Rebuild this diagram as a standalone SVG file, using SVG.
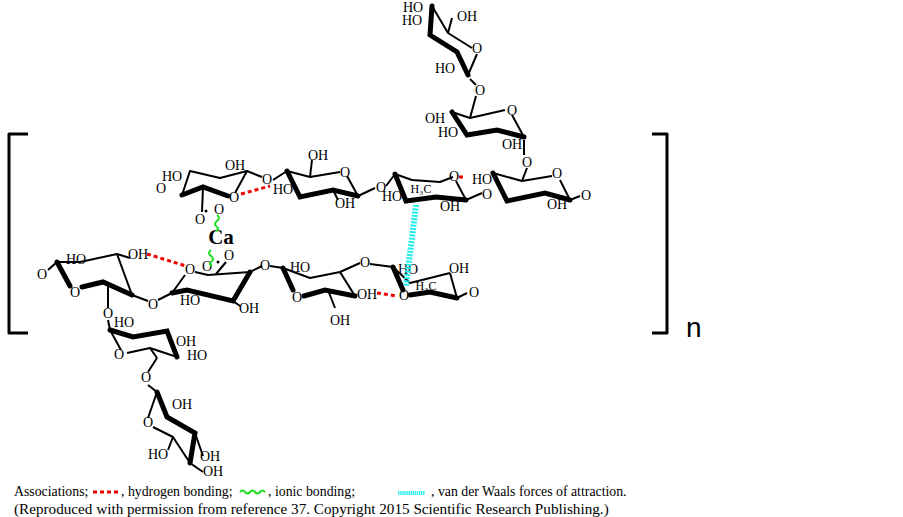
<svg xmlns="http://www.w3.org/2000/svg" width="903" height="517" viewBox="0 0 903 517">
<style>
.b{fill:none;stroke:#000;stroke-width:2;stroke-linejoin:round}
.t{fill:none;stroke:#000;stroke-width:5;stroke-linecap:round}
.l{font-family:"Liberation Serif",serif;font-size:14px;fill:#000;text-anchor:middle}
.hb{stroke:#e00;stroke-width:3;stroke-dasharray:4,3;fill:none}
.ib{stroke:#2d2;stroke-width:2;fill:none}
.leg{font-family:"Liberation Serif",serif;font-size:13.8px;fill:#000}
</style>
<rect width="903" height="517" fill="#fff"/>
<g id="brackets" class="b" style="stroke-width:3">
<polyline points="28,134 9,134 9,333 28,333"/>
<polyline points="652,134 667,134 667,333 652,333"/>
</g>
<text x="686" y="337" style="font-family:'Liberation Sans',sans-serif;font-size:28px">n</text>

<g id="ringA">
<polyline class="b" points="182,195 190,171 220,178 247,171 235,193"/>
<polyline class="t" points="182,195 203,187 228,196"/>
<line class="b" x1="203" y1="187" x2="202" y2="212"/>
<line class="b" x1="247" y1="171" x2="262" y2="177"/>
<text class="l" x="172" y="181">HO</text><text class="l" x="235" y="170">OH</text>
<text class="l" x="161" y="193">O</text><text class="l" x="234" y="202">O</text>
<text class="l" x="267" y="184">O</text>
<text class="l" x="200" y="224">O</text><text class="l" x="219" y="214">O</text>
<circle cx="206" cy="211" r="1.5"/>
</g>
<g id="ringB">
<polyline class="b" points="273,180 287,171 310,177 340,172"/>
<polyline class="t" points="287,171 300,197 333,190 358,196"/>
<line class="b" x1="358" y1="196" x2="347" y2="176"/>
<line class="b" x1="310" y1="177" x2="312" y2="160"/>
<line class="b" x1="333" y1="190" x2="338" y2="200"/>
<line class="b" x1="358" y1="196" x2="375" y2="188"/>
<text class="l" x="283" y="194">HO</text><text class="l" x="318" y="160">OH</text>
<text class="l" x="345" y="208">OH</text><text class="l" x="345" y="177">O</text>
<text class="l" x="381" y="192">O</text>
</g>
<g id="ringC">
<polyline class="b" points="386,186 395,174 412,180 440,182 453,177"/>
<polyline class="t" points="395,174 406,201 436,197 466,200"/>
<line class="b" x1="466" y1="200" x2="456" y2="181"/>
<line class="b" x1="466" y1="200" x2="482" y2="193"/>
<text class="l" x="421" y="193" style="font-size:12px">H₃C</text>
<text class="l" x="392" y="201">HO</text><text class="l" x="450" y="211">OH</text>
<text class="l" x="454" y="181">O</text><text class="l" x="487" y="199">O</text>
</g>
<g id="ringD">
<polyline class="b" points="493,173 522,181 552,176"/>
<polyline class="t" points="493,173 507,201 545,193 570,200"/>
<line class="b" x1="570" y1="200" x2="560" y2="180"/>
<line class="b" x1="570" y1="200" x2="580" y2="196"/>
<line class="b" x1="522" y1="181" x2="527" y2="168"/>
<text class="l" x="482" y="184">HO</text><text class="l" x="557" y="209">OH</text>
<text class="l" x="557" y="178">O</text><text class="l" x="586" y="200">O</text>
<text class="l" x="527" y="167">O</text>
</g>
<g id="ringE">
<line class="b" x1="524" y1="155" x2="524" y2="140"/>
<polyline class="b" points="452,112 470,118 505,110"/>
<polyline class="t" points="452,112 467,135 497,130 524,137"/>
<line class="b" x1="524" y1="137" x2="512" y2="115"/>
<line class="b" x1="470" y1="118" x2="476" y2="96"/>
<text class="l" x="435" y="123">OH</text><text class="l" x="448" y="137">HO</text>
<text class="l" x="512" y="149">OH</text><text class="l" x="512" y="115">O</text>
<text class="l" x="480" y="95">O</text>
</g>
<g id="ringF">
<line class="b" x1="470" y1="79" x2="476" y2="85"/>
<polyline class="b" points="472,48 448,33 432,6"/>
<polyline class="t" points="432,6 430,35 457,52 468,75"/>
<line class="b" x1="468" y1="75" x2="477" y2="54"/>
<line class="b" x1="448" y1="33" x2="452" y2="18"/>
<text class="l" x="413" y="12">HO</text><text class="l" x="412" y="25">HO</text>
<text class="l" x="467" y="21">OH</text><text class="l" x="445" y="73">HO</text>
<text class="l" x="477" y="53">O</text>
</g>

<g id="ringG">
<polyline class="b" points="48,270 57,262 80,262 117,254 130,258"/>
<polyline class="t" points="57,262 70,286"/>
<polyline class="t" points="82,287 103,282 132,295"/>
<polyline class="b" points="117,254 132,295 148,301"/>
<line class="b" x1="108" y1="283" x2="108" y2="308"/>
<text class="l" x="76" y="264">HO</text><text class="l" x="138" y="259">OH</text>
<text class="l" x="42" y="279">O</text><text class="l" x="75" y="297">O</text>
<text class="l" x="153" y="309">O</text><text class="l" x="108" y="318">O</text>
</g>
<g id="ringH">
<polyline class="b" points="158,300 172,293 185,275"/>
<polyline class="b" points="195,272 208,275 250,272 262,266"/>
<polyline class="t" points="172,293 187,290 233,301 250,272"/>
<line class="b" x1="233" y1="301" x2="240" y2="306"/>
<line class="b" x1="216" y1="274" x2="226" y2="262"/>
<text class="l" x="190" y="305">HO</text><text class="l" x="249" y="313">OH</text>
<text class="l" x="190" y="274">O</text><text class="l" x="207" y="271">O</text>
<text class="l" x="229" y="260">O</text><text class="l" x="265" y="270">O</text>
<circle cx="218" cy="262" r="1.5"/>
</g>
<text x="221" y="244" style="font-family:'Liberation Serif',serif;font-size:21px;font-weight:bold;text-anchor:middle">Ca</text>
<g id="ringI">
<polyline class="b" points="270,266 283,268 310,278 340,272 360,263"/>
<polyline class="t" points="283,268 293,290"/>
<polyline class="t" points="304,296 325,290 355,296"/>
<polyline class="b" points="340,272 355,296"/>
<line class="b" x1="328" y1="290" x2="335" y2="308"/>
<text class="l" x="300" y="272">HO</text><text class="l" x="367" y="299">OH</text>
<text class="l" x="340" y="325">OH</text><text class="l" x="297" y="302">O</text>
<text class="l" x="365" y="267">O</text>
</g>
<g id="ringJ">
<polyline class="b" points="370,264 393,267 410,283 450,273"/>
<polyline class="t" points="393,267 403,290"/>
<polyline class="t" points="410,295 430,292 457,298"/>
<polyline class="b" points="450,273 457,298 467,293"/>
<text class="l" x="408" y="274">HO</text><text class="l" x="459" y="273">OH</text>
<text class="l" x="426" y="290" style="font-size:12px">H₃C</text>
<text class="l" x="404" y="300">O</text><text class="l" x="474" y="297">O</text>
</g>
<g id="ringK">
<polyline class="b" points="108,320 110,330 121,350"/>
<polyline class="t" points="110,330 133,337 167,331 177,357"/>
<polyline class="b" points="177,357 150,348 127,353"/>
<line class="b" x1="150" y1="348" x2="157" y2="358"/>
<line class="b" x1="157" y1="358" x2="148" y2="372"/>
<text class="l" x="124" y="327">HO</text><text class="l" x="186" y="346">OH</text>
<text class="l" x="197" y="360">HO</text><text class="l" x="119" y="359">O</text>
<text class="l" x="146" y="382">O</text>
</g>
<g id="ringL">
<polyline class="b" points="148,385 157,392 148,418"/>
<polyline class="t" points="157,392 167,417 195,433 190,463"/>
<polyline class="b" points="190,463 173,437 153,427"/>
<line class="b" x1="173" y1="437" x2="168" y2="450"/>
<line class="b" x1="190" y1="463" x2="203" y2="472"/>
<line class="b" x1="195" y1="433" x2="203" y2="456"/>
<text class="l" x="182" y="409">OH</text><text class="l" x="158" y="459">HO</text>
<text class="l" x="210" y="461">OH</text><text class="l" x="213" y="476">OH</text>
<text class="l" x="148" y="427">O</text>
</g>

<g id="connectors">
<line class="hb" x1="241" y1="194" x2="270" y2="186"/>
<line class="hb" x1="147" y1="254" x2="186" y2="266"/>
<line class="hb" x1="377" y1="293" x2="397" y2="296"/>
<line class="hb" x1="459" y1="177" x2="466" y2="177"/>
<path class="ib" d="M217,215 q4,3 0,6 q-4,3 0,6 q3,2 -1,4"/>
<path class="ib" d="M211,250 q-4,3 0,6 q4,3 0,6 q-3,2 1,4"/>
<line x1="416" y1="205" x2="406" y2="286" stroke="#2ee" stroke-width="6" stroke-dasharray="2,1.3"/>
</g>

<g id="legend">
<text class="leg" x="14" y="496">Associations;</text>
<line class="hb" x1="93" y1="492" x2="119" y2="492"/>
<text class="leg" x="121" y="496">, hydrogen bonding;</text>
<path class="ib" d="M240,492 q2.5,-3 5,0 q2.5,3 5,0 q2.5,-3 5,0 q2.5,3 5,0 q2.5,-3 5,0"/>
<text class="leg" x="268" y="496">, ionic bonding;</text>
<line x1="398" y1="493" x2="425" y2="493" stroke="#2ee" stroke-width="4" stroke-dasharray="1.3,0.8"/>
<text class="leg" x="431" y="496">, van der Waals forces of attraction.</text>
<text class="leg" x="14" y="514" style="font-size:15.2px">(Reproduced with permission from reference 37. Copyright 2015 Scientific Research Publishing.)</text>
</g>
</svg>
